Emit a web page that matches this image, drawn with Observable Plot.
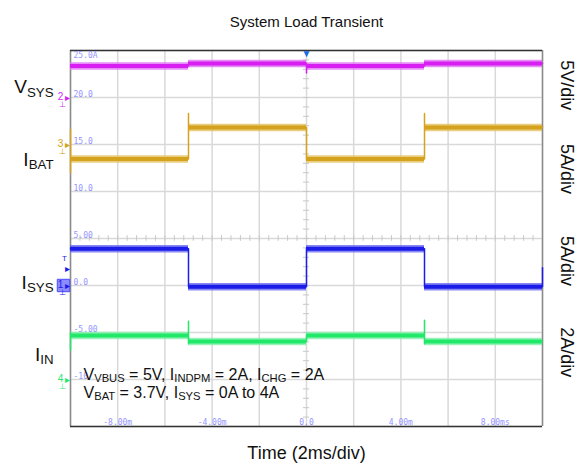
<!DOCTYPE html>
<html>
<head>
<meta charset="utf-8">
<script src="https://cdn.jsdelivr.net/npm/d3@7"></script>
<script src="https://cdn.jsdelivr.net/npm/@observablehq/plot@0.6"></script>
<style>
  html, body { margin: 0; padding: 0; background: #fff; }
  #chart { width: 578px; height: 471px; }
</style>
</head>
<body>
<div id="chart"></div>
<script>
// ---- Data (time in ms, values in screen units: 5 units per division) ----
const vsys = [[-10, 23.35], [-5, 23.35], [-5, 23.62], [0, 23.62], [0, 22.6], [0, 23.35], [5, 23.35], [5, 23.62], [10, 23.62]];
const ibat = [[-10, 12.0], [-10, 16.6], [-10, 13.46], [-5, 13.46], [-5, 18.3], [-5, 16.8], [0, 16.8], [0, 13.46], [5, 13.46], [5, 18.3], [5, 16.8], [10, 16.8]];
const isys = [[-10, 3.9], [-5, 3.9], [-5, -0.12], [0, -0.12], [0, 3.9], [5, 3.9], [5, -0.12], [10, -0.12], [10, 1.9]];
const iin  = [[-10, -6.9], [-10, -5.0], [-10, -5.32], [-5, -5.32], [-5, -3.8], [-5, -6.2], [-5, -5.96], [0, -5.96], [0, -5.32], [5, -5.32], [5, -3.7], [5, -6.2], [5, -5.96], [10, -5.96]];

const xTicks = [-8, -4, 0, 4, 8];
const xTickLabels = ["-8.00m", "-4.00m", "0.0", "4.00m", "8.00ms"];
const yTicks = [20, 15, 10, 5, 0, -5, -10];
const yTickLabels = ["20.0", "15.0", "10.0", "5.00", "0.0", "-5.00", "-10"];
const topTickLabel = "25.0A";
const xGrid = [-10, -8, -6, -4, -2, 0, 2, 4, 6, 8, 10];
const yGrid = [25, 20, 15, 10, 5, 0, -5, -10, -15];

const seriesNames = ["V_{SYS}", "I_{BAT}", "I_{SYS}", "I_{IN}"];
const seriesLabelY = [21.1, 13.4, 0.3, -7.4];
const scaleLabels = ["5V/div", "5A/div", "5A/div", "2A/div"];
const scaleLabelY = [21.3, 12.4, 2.6, -7.1];
const channelNames = ["2", "3", "1", "4"];
const channelLevels = [20, 15, 0, -10];
const colors = ["#d61ff0", "#d4a21c", "#1c1ce8", "#22e86a"];
const bandColors = ["#e070f5", "#e3c060", "#6a6af0", "#80f0a8"];

const titleText = "System Load Transient";
const xLabelText = "Time (2ms/div)";
const noteLines = ["V_{VBUS} = 5V, I_{INDPM} = 2A, I_{CHG} = 2A", "V_{BAT} = 3.7V, I_{SYS} = 0A to 4A"];

// ---- Build tables ----
const allSeries = [vsys, ibat, isys, iin];
const pathRows = allSeries.flatMap((s, k) => s.map(([t, v]) => ({k, t, v})));
const levelRows = allSeries.flatMap((s, k) => {
  const out = [];
  for (let i = 0; i < s.length - 1; i++) {
    if (s[i][1] === s[i + 1][1] && s[i][0] !== s[i + 1][0]) out.push({k, t1: s[i][0], t2: s[i + 1][0], v: s[i][1]});
  }
  return out;
});
const minorY = d3.range(-15, 25.01, 1);
const minorX = d3.range(-10, 10.01, 0.4);

const font = "'Liberation Sans', Arial, Helvetica, sans-serif";
const mono = "'DejaVu Sans Mono', 'Liberation Mono', monospace";

const plot = Plot.plot({
  width: 578,
  height: 471,
  marginLeft: 70,
  marginRight: 36,
  marginTop: 50,
  marginBottom: 45,
  x: {domain: [-10, 10], axis: null},
  y: {domain: [-15, 25], axis: null},
  style: {fontFamily: font, background: "#fff", overflow: "visible"},
  marks: [
    // grid
    Plot.ruleX(xGrid, {stroke: "#d9d9d9", strokeWidth: 1.5}),
    Plot.ruleY(yGrid, {stroke: "#d9d9d9", strokeWidth: 1.5}),
    // minor ticks on center lines
    Plot.ruleY(minorY, {y: d => d, x1: -0.13, x2: 0.13, stroke: "#c8c8c8", strokeWidth: 1}),
    Plot.ruleX(minorX, {x: d => d, y1: 4.7, y2: 5.3, stroke: "#c8c8c8", strokeWidth: 1}),
    // frame
    Plot.ruleX([-10, 10], {stroke: "#8a8a8a", strokeWidth: 1.5}),
    Plot.ruleY([25, -15], {stroke: "#333", strokeWidth: 1.5}),
    // tick labels
    Plot.text(yTicks, {x: -10, y: d => d, text: (d, i) => yTickLabels[i], dx: 3, dy: -1, textAnchor: "start", lineAnchor: "bottom", fontSize: 8, fontFamily: mono, fill: "#9494ff"}),
    Plot.text([25], {x: -10, y: d => d, text: [topTickLabel], dx: 3, dy: 1.5, textAnchor: "start", lineAnchor: "top", fontSize: 8, fontFamily: mono, fill: "#9494ff"}),
    Plot.text(xTicks, {x: d => d, y: -15, text: (d, i) => xTickLabels[i], dy: -2, textAnchor: "middle", lineAnchor: "bottom", fontSize: 8, fontFamily: mono, fill: "#9494ff"}),
    // traces: level bands + thin transitions
    Plot.ruleY(levelRows, {x1: "t1", x2: "t2", y: "v", stroke: d => bandColors[d.k], strokeWidth: 7.5, strokeOpacity: 0.8}),
    Plot.line(pathRows, {x: "t", y: "v", z: "k", stroke: d => colors[d.k], strokeWidth: 1.5}),
    Plot.ruleY(levelRows, {x1: "t1", x2: "t2", y: "v", stroke: d => colors[d.k], strokeWidth: 4}),
    // channel markers
    Plot.dot([0], {x: -10, y: 0, dx: -7, symbol: "square", r: 7, fill: "#8c8cff", stroke: "#4a4aff", strokeWidth: 1}),
    Plot.text(channelNames, {x: -10, y: (d, i) => channelLevels[i], text: d => d, dx: -10, dy: -1, fontSize: 10, fill: (d, i) => colors[i], textAnchor: "middle"}),
    Plot.text(channelNames, {x: -10, y: (d, i) => channelLevels[i], text: () => "▸", dx: -3, fontSize: 10, fill: (d, i) => colors[i], textAnchor: "middle"}),
    Plot.text(channelNames, {x: -10, y: (d, i) => channelLevels[i], text: () => "⊥", dx: -8, dy: 7, fontSize: 8, fill: (d, i) => colors[i], textAnchor: "middle"}),
    Plot.text(["T"], {x: -10, y: 2.9, text: d => d, dx: -6, fontSize: 8, fill: "#1c1ce8", textAnchor: "middle"}),
    Plot.text(["▸"], {x: -10, y: 1.8, text: d => d, dx: -3, fontSize: 10, fill: "#1c1ce8", textAnchor: "middle"}),
    Plot.text(["▼"], {x: 0, y: 25, text: d => d, dy: 3, fontSize: 10, fill: "#1a6be8", textAnchor: "middle"}),
    // series labels (left)
    Plot.text(seriesNames, {x: -10, y: (d, i) => seriesLabelY[i], text: d => d, dx: -17, textAnchor: "end", fontSize: 19, fill: "#111"}),
    // scale labels (right, rotated)
    Plot.text(scaleLabels, {x: 10, y: (d, i) => scaleLabelY[i], text: d => d, dx: 24, rotate: 90, textAnchor: "middle", fontSize: 18, fill: "#111"}),
    // note
    Plot.text([noteLines[0]], {frameAnchor: "bottom-left", text: d => d, dx: 13, dy: -47, textAnchor: "start", fontSize: 16, fill: "#111"}),
    Plot.text([noteLines[1]], {frameAnchor: "bottom-left", text: d => d, dx: 13, dy: -29, textAnchor: "start", fontSize: 16, fill: "#111"}),
    // title and x label
    Plot.text([titleText], {frameAnchor: "top", text: d => d, dy: -34, fontSize: 15, fill: "#111"}),
    Plot.text([xLabelText], {frameAnchor: "bottom", text: d => d, dy: 32, fontSize: 18, fill: "#111"})
  ]
});

// subscripts: V_{SYS} -> V + tspan
d3.select(plot).selectAll("text").each(function () {
  const t = this.textContent;
  if (!t.includes("_{")) return;
  const el = d3.select(this);
  el.text(null);
  const parts = t.split(/(_\{[^}]*\})/);
  let sub = false;
  for (const p of parts) {
    if (!p) continue;
    if (p.startsWith("_{")) {
      el.append("tspan").attr("font-size", "70%").attr("dy", "0.25em").text(p.slice(2, -1));
      sub = true;
    } else {
      const ts = el.append("tspan").text(p);
      if (sub) { ts.attr("dy", "-0.175em"); sub = false; }
    }
  }
});

document.getElementById("chart").appendChild(plot);
</script>
</body>
</html>
